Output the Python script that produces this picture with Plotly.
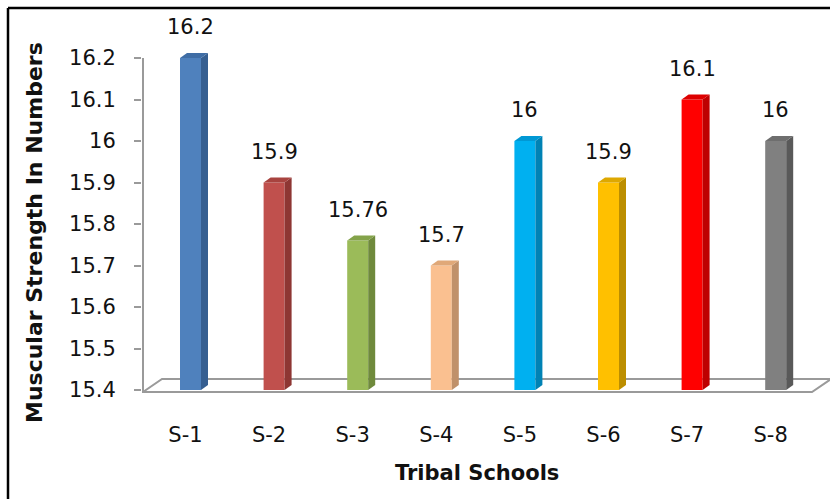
import plotly.graph_objects as go

# ---------------- data ----------------
categories = ["S-1", "S-2", "S-3", "S-4", "S-5", "S-6", "S-7", "S-8"]
values = [16.2, 15.9, 15.76, 15.7, 16.0, 15.9, 16.1, 16.0]
front_colors = ["#4F81BD", "#C0504D", "#9BBB59", "#FAC090", "#00B0F0", "#FFC000", "#FF0000", "#808080"]
side_colors = ["#365F91", "#8E3633", "#6F8A3C", "#C0916A", "#0082B4", "#BC8E00", "#BE0000", "#595959"]
top_colors = ["#3F6DA5", "#A8433F", "#84A34A", "#E0A878", "#0098D4", "#DEA800", "#DD0000", "#6E6E6E"]
y_ticks = [15.4, 15.5, 15.6, 15.7, 15.8, 15.9, 16.0, 16.1, 16.2]
x_title = "Tribal Schools"
y_title = "Muscular Strength In Numbers"

# ---------------- geometry ----------------
W, H = 830, 499
ax_px = 143            # pixel column of the value axis
x0_px = 190.5          # pixel of first category centre
xu = 83.6              # px per category
y_lo_px, y_hi_px = 390, 58   # pixels of first / last tick
yu = (y_lo_px - y_hi_px) / (y_ticks[-1] - y_ticks[0])

L, R = ax_px - 1, 0
T, B = y_hi_px - 8, H - (y_lo_px + 4)
PW, PH = W - L - R, H - T - B
X_RANGE = [(L - x0_px) / xu, (W - R - x0_px) / xu]
Y_RANGE = [y_ticks[0] - 4 / yu, y_ticks[-1] + 8 / yu]

def px_x(p):  # pixel -> paper x
    return (p - L) / PW

def px_y(p):  # pixel -> paper y
    return (H - B - p) / PH

def dx(p):
    return p / xu

def dy(p):
    return p / yu

bar_w = dx(21)
side_dx = dx(7)
side_dy = dy(5)
base = y_ticks[0]
xs = list(range(len(categories)))
ax_x = (ax_px - x0_px) / xu

FONT = "DejaVu Sans"
TXT = "#111111"
GRID = "#9A9A9A"
fig = go.Figure()

# floor (3D base plane) as a shape under the bars
f_left = ax_x
f_right = (812 - x0_px) / xu
f_front = base - dy(2)
f_back = base + dy(11)
floor_pts = [(f_left, f_front), (f_right, f_front), (f_right + dx(19), f_back),
             (f_left + dx(19), f_back)]
floor_path = "M " + " L ".join(f"{x},{y}" for x, y in floor_pts) + " Z"

# value axis line (from floor to last tick)
fig.add_trace(go.Scatter(
    x=[ax_x, ax_x], y=[f_front, y_ticks[-1]], mode="lines",
    line=dict(color=GRID, width=2), hoverinfo="skip", showlegend=False))

# front faces
fig.add_trace(go.Bar(
    x=xs, y=[v - base for v in values], base=base, width=bar_w,
    marker=dict(color=front_colors, line=dict(width=0)),
    showlegend=False, hoverinfo="skip"))

# side and top faces
for i, v in enumerate(values):
    xr = xs[i] + bar_w / 2
    xl = xs[i] - bar_w / 2
    fig.add_trace(go.Scatter(
        x=[xr, xr, xr + side_dx, xr + side_dx, xr],
        y=[base, v, v + side_dy, base + side_dy, base],
        mode="lines", fill="toself", fillcolor=side_colors[i],
        line=dict(width=0, color=side_colors[i]),
        hoverinfo="skip", showlegend=False))
    fig.add_trace(go.Scatter(
        x=[xl, xr, xr + side_dx, xl + side_dx, xl],
        y=[v, v, v + side_dy, v + side_dy, v],
        mode="lines", fill="toself", fillcolor=top_colors[i],
        line=dict(width=0, color=top_colors[i]),
        hoverinfo="skip", showlegend=False))

annotations = []
for i, v in enumerate(values):
    annotations.append(dict(
        x=xs[i], y=v, xref="x", yref="y", text=f"{v:g}", showarrow=False,
        yshift=31, xanchor="center", yanchor="middle",
        font=dict(family=FONT, size=21, color=TXT)))

annotations.append(dict(
    x=px_x(477), y=px_y(473), xref="paper", yref="paper", text=x_title,
    showarrow=False, xanchor="center", yanchor="middle",
    font=dict(family=FONT, size=21, color=TXT, weight="bold")))
annotations.append(dict(
    x=px_x(34), y=px_y(233), xref="paper", yref="paper", text=y_title,
    showarrow=False, textangle=-90, xanchor="center", yanchor="middle",
    font=dict(family=FONT, size=22, color=TXT, weight="bold")))

shapes = [
    dict(type="path", xref="x", yref="y", path=floor_path, layer="below",
         fillcolor="white", line=dict(color=GRID, width=2)),
    dict(type="line", xref="paper", yref="paper",
         x0=px_x(8), y0=px_y(8), x1=px_x(832), y1=px_y(8),
         line=dict(color="black", width=2.5)),
    dict(type="line", xref="paper", yref="paper",
         x0=px_x(8), y0=px_y(8), x1=px_x(8), y1=px_y(501),
         line=dict(color="black", width=2.5)),
]

fig.update_layout(
    width=W, height=H,
    margin=dict(l=L, r=R, t=T, b=B, pad=0),
    paper_bgcolor="white", plot_bgcolor="white",
    showlegend=False,
    annotations=annotations, shapes=shapes,
    xaxis=dict(range=X_RANGE, tickmode="array",
               tickvals=[x - 0.06 for x in xs], ticktext=categories,
               showline=False, showgrid=False, zeroline=False, ticks="",
               ticklabelstandoff=26,
               tickfont=dict(family=FONT, size=21, color=TXT)),
    yaxis=dict(range=Y_RANGE, tickmode="array", tickvals=y_ticks,
               ticktext=[f"{t:g}" for t in y_ticks],
               showline=False,
               ticks="outside", ticklen=7, tickcolor=GRID, tickwidth=2,
               showgrid=False, zeroline=False, ticklabelstandoff=14,
               tickfont=dict(family=FONT, size=21, color=TXT)),
)

fig.write_html("out.html")
